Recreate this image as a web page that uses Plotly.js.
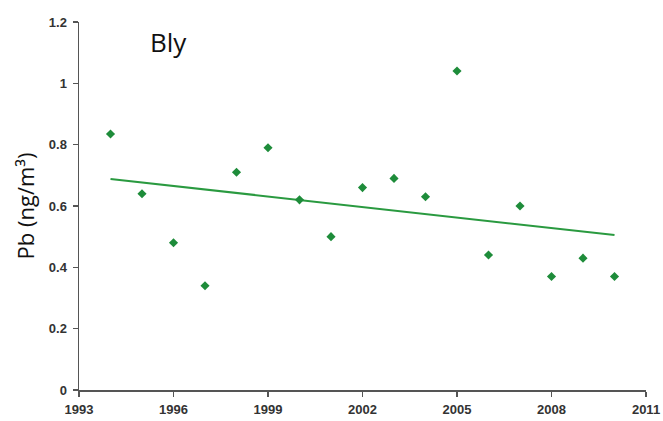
<!DOCTYPE html>
<html><head><meta charset="utf-8">
<script src="https://cdn.plot.ly/plotly-3.0.1.min.js"></script>
<style>html,body{margin:0;padding:0;background:#fff}#chart{width:663px;height:421px}</style>
</head><body><div id="chart"></div>
<script>
const years = [1994,1995,1996,1997,1998,1999,2000,2001,2002,2003,2004,2005,2006,2007,2008,2009,2010];
const pb = [0.835,0.64,0.48,0.34,0.71,0.79,0.62,0.50,0.66,0.69,0.63,1.04,0.44,0.60,0.37,0.43,0.37];
const xTicks = [1993,1996,1999,2002,2005,2008,2011];
const yTicks = [0,0.2,0.4,0.6,0.8,1,1.2];
const yTickText = ['0','0.2','0.4','0.6','0.8','1','1.2'];
const siteLabel = 'Bly';

// least-squares trend line
const n = years.length;
const mx = years.reduce((a,b)=>a+b,0)/n;
const my = pb.reduce((a,b)=>a+b,0)/n;
let sxy=0, sxx=0;
for (let i=0;i<n;i++){ sxy += (years[i]-mx)*(pb[i]-my); sxx += (years[i]-mx)**2; }
const slope = sxy/sxx, icpt = my - slope*mx;
const trendX = [years[0], years[n-1]];
const trendY = trendX.map(x => icpt + slope*x);

const green = '#1e8c3a';
const data = [
  {x: trendX, y: trendY, mode:'lines', line:{color:'#2a9a40', width:2}, hoverinfo:'skip'},
  {x: years, y: pb, mode:'markers', marker:{symbol:'diamond', size:7, color:green}}
];
const tickFont = {family:'"Liberation Sans Narrow", "Liberation Sans", Arial, sans-serif', size:13, color:'#333', weight:'bold'};
const layout = {
  width:663, height:421, showlegend:false,
  paper_bgcolor:'#fff', plot_bgcolor:'#fff',
  margin:{l:79, r:17, t:22, b:31},
  xaxis:{range:[1993,2011], tickvals:xTicks, ticktext:xTicks.map(String), showgrid:false, zeroline:false,
    showline:true, linecolor:'#555', linewidth:1.5, ticks:'outside', ticklen:5, tickcolor:'#555', tickwidth:1.5,
    tickfont:tickFont, ticklabelstandoff:2},
  yaxis:{range:[0,1.2], tickvals:yTicks, ticktext:yTickText, showgrid:false, zeroline:false,
    showline:true, linecolor:'#555', linewidth:1.5, ticks:'outside', ticklen:5, tickcolor:'#555', tickwidth:1.5,
    tickfont:tickFont, ticklabelstandoff:3,
    title:{text:'Pb (ng/m³)', font:{family:'"Open Sans", "Liberation Sans", sans-serif', size:22, color:'#111'}, standoff:8}},
  annotations:[{text:siteLabel, xref:'paper', yref:'paper', x:0.122, y:0.945, xanchor:'left', yanchor:'middle',
    showarrow:false, font:{family:'"Open Sans", "Liberation Sans", sans-serif', size:26, color:'#111'}}]
};
Plotly.newPlot('chart', data, layout, {displayModeBar:false, staticPlot:true});
</script></body></html>
